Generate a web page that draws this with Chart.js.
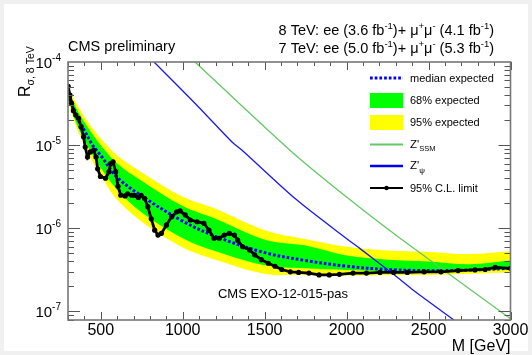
<!DOCTYPE html>
<html>
<head>
    <meta charset="utf-8">
    <title>Z' Limit Plot</title>
    <script src="https://cdn.jsdelivr.net/npm/chart.js"></script>
    <style>
        html, body {
            margin: 0;
            padding: 0;
            background-color: #f0f0f0;
        }
        .paper {
            position: absolute;
            left: 4px;
            top: 4px;
            width: 524px;
            height: 347px;
            background-color: #fff;
        }
        .wrap {
            position: absolute;
            left: 0;
            top: 0;
            width: 532px;
            height: 355px;
        }
    </style>
</head>
<body>
    <div class="paper"></div>
    <div class="wrap">
        <canvas id="limitChart" width="532" height="355"></canvas>
    </div>

    <script>
        // Expected limit bands (mass in GeV)
        const bandMass = [300, 350, 400, 450, 500, 600, 750, 1000, 1200, 1500, 1750, 2000, 2250, 2500, 2750, 3000];
        const medianExpected = [4.1e-5, 2.25e-5, 1.5e-5, 1.0e-5, 7.5e-6, 4.1e-6, 2.45e-6, 1.22e-6, 8.0e-7, 5.1e-7, 4.1e-7, 3.5e-7, 3.2e-7, 3.1e-7, 3.15e-7, 3.3e-7];
        const band68Up = [4.5e-5, 2.8e-5, 1.9e-5, 1.35e-5, 1.0e-5, 6.0e-6, 3.7e-6, 1.85e-6, 1.3e-6, 7.3e-7, 6.2e-7, 4.7e-7, 4.2e-7, 4.0e-7, 3.7e-7, 4.1e-7];
        const band68Down = [3.7e-5, 1.85e-5, 1.15e-5, 7.6e-6, 5.3e-6, 2.9e-6, 1.55e-6, 7.6e-7, 5.3e-7, 3.6e-7, 3.3e-7, 3.15e-7, 3.05e-7, 3.0e-7, 3.1e-7, 3.2e-7];
        const band95Up = [4.8e-5, 3.2e-5, 2.2e-5, 1.6e-5, 1.2e-5, 7.5e-6, 4.7e-6, 2.4e-6, 1.72e-6, 9.5e-7, 7.4e-7, 6.0e-7, 5.4e-7, 5.2e-7, 4.9e-7, 5.3e-7];
        const band95Down = [3.4e-5, 1.65e-5, 1.0e-5, 6.3e-6, 4.3e-6, 2.2e-6, 1.2e-6, 5.9e-7, 4.2e-7, 2.85e-7, 2.75e-7, 2.7e-7, 2.75e-7, 2.75e-7, 2.85e-7, 2.95e-7];

        // Observed 95% C.L. limit
        const obsMass = [301, 312, 322, 333, 347, 364, 380, 395, 405, 419, 436, 457, 471, 481, 498, 529, 550, 560, 575, 591,
            605, 622, 648, 663, 689, 705, 729, 746, 767, 787, 808, 829, 849, 870, 901, 932, 963, 984, 1015, 1046,
            1087, 1129, 1160, 1191, 1222, 1253, 1284, 1315, 1335, 1366, 1408, 1439, 1480, 1522, 1563, 1604, 1656, 1707, 1770, 1832,
            1894, 1956, 2039, 2121, 2204, 2287, 2370, 2473, 2576, 2680, 2783, 2845, 2907, 3000];
        const obsLimit = [5.1e-5, 4.0e-5, 3.2e-5, 2.6e-5, 2.3e-5, 2.1e-5, 1.66e-5, 1.26e-5, 9.5e-6, 7.2e-6, 8.3e-6, 8.7e-6, 7.2e-6, 5.2e-6, 4.2e-6, 4.0e-6, 4.8e-6, 6.0e-6, 6.3e-6, 4.8e-6,
            3.2e-6, 2.5e-6, 2.45e-6, 2.6e-6, 2.5e-6, 2.5e-6, 2.35e-6, 2.5e-6, 2.3e-6, 1.82e-6, 1.3e-6, 9.5e-7, 8.3e-7, 8.7e-7, 1.1e-6, 1.38e-6, 1.58e-6, 1.62e-6, 1.45e-6, 1.26e-6,
            1.2e-6, 1.15e-6, 9.5e-7, 7.6e-7, 7.6e-7, 8.3e-7, 8.7e-7, 8.3e-7, 7.2e-7, 6.0e-7, 5.5e-7, 4.8e-7, 4.2e-7, 3.8e-7, 3.5e-7, 3.2e-7, 3.0e-7, 2.95e-7, 2.9e-7, 2.75e-7,
            2.75e-7, 2.8e-7, 2.9e-7, 2.9e-7, 2.95e-7, 2.95e-7, 2.95e-7, 3.0e-7, 3.0e-7, 3.1e-7, 3.16e-7, 3.2e-7, 3.4e-7, 3.3e-7];

        // Theory curves
        const ssmMass = [1075, 1654, 2021, 2326, 3000];
        const ssmRatio = [1.0e-4, 8.7e-6, 2.2e-6, 7.6e-7, 8.2e-8];
        const psiMass = [825, 1095, 1301, 1362, 1695, 2021, 2082, 2307, 2407, 2655];
        const psiRatio = [1.0e-4, 2.9e-5, 1.09e-5, 8.7e-6, 2.2e-6, 7.0e-7, 5.7e-7, 2.6e-7, 1.8e-7, 7.9e-8];

        // Axis ticks
        const xMajorTicks = [500, 1000, 1500, 2000, 2500, 3000];
        const yDecades = [1e-7, 1e-6, 1e-5, 1e-4];
        const yDecadeLabels = ['-7', '-6', '-5', '-4'];

        const FONT = '"Liberation Sans", Arial, sans-serif';

        function toPoints(xs, ys) {
            return xs.map((x, i) => ({ x: x, y: ys[i] }));
        }

        // Draw a run of text pieces, some raised or lowered (super/subscripts)
        function drawRich(ctx, parts, x, y, align) {
            let total = 0;
            parts.forEach(function(p) {
                ctx.font = p[1] + 'px ' + FONT;
                total += ctx.measureText(p[0]).width;
            });
            let cx = align === 'right' ? x - total : (align === 'center' ? x - total / 2 : x);
            ctx.textAlign = 'left';
            parts.forEach(function(p) {
                ctx.font = p[1] + 'px ' + FONT;
                ctx.fillText(p[0], cx, y + p[2]);
                cx += ctx.measureText(p[0]).width;
            });
        }

        // Frame, ROOT style inner ticks, labels, legend and captions
        const decorations = {
            id: 'decorations',
            afterDatasetsDraw(chart) {
                const ctx = chart.ctx;
                const area = chart.chartArea;
                const xs = chart.scales.x;
                const ys = chart.scales.y;
                ctx.save();
                ctx.fillStyle = '#000';
                ctx.textBaseline = 'alphabetic';

                // ticks
                ctx.strokeStyle = '#555';
                ctx.lineWidth = 1;
                ctx.beginPath();
                for (let m = 300; m <= 3000; m += 100) {
                    const px = Math.round(xs.getPixelForValue(m)) + 0.5;
                    const len = (m % 500 === 0) ? 8 : 4;
                    ctx.moveTo(px, area.bottom); ctx.lineTo(px, area.bottom - len);
                    ctx.moveTo(px, area.top); ctx.lineTo(px, area.top + len);
                }
                for (let e = -8; e <= -5; e++) {
                    for (let k = 1; k <= 9; k++) {
                        const v = k * Math.pow(10, e);
                        if (v < ys.min * 0.999 || v > ys.max * 1.001) continue;
                        const py = Math.round(ys.getPixelForValue(v)) + 0.5;
                        const len = k === 1 ? 12 : 6;
                        ctx.moveTo(area.left, py); ctx.lineTo(area.left + len, py);
                        ctx.moveTo(area.right, py); ctx.lineTo(area.right - len, py);
                    }
                }
                ctx.stroke();

                // frame
                ctx.strokeStyle = '#777';
                ctx.lineWidth = 1.6;
                ctx.strokeRect(area.left, area.top, area.right - area.left, area.bottom - area.top);

                // x tick labels
                ctx.fillStyle = '#000';
                ctx.font = '16px ' + FONT;
                ctx.textAlign = 'center';
                xMajorTicks.forEach(function(m) {
                    ctx.fillText(String(m), xs.getPixelForValue(m), 335);
                });
                ctx.textAlign = 'right';
                ctx.fillText('M [GeV]', area.right, 351);

                // y tick labels 10^n
                yDecades.forEach(function(v, i) {
                    const py = ys.getPixelForValue(v);
                    drawRich(ctx, [['10', 15, 0], [yDecadeLabels[i], 10, -7]], 61, py + 6, 'right');
                });

                // y axis title
                ctx.save();
                ctx.translate(30, 97);
                ctx.rotate(-Math.PI / 2);
                drawRich(ctx, [['R', 16, 0], ['\u03c3, 8 TeV', 10.5, 4]], 0, 0, 'left');
                ctx.restore();

                // captions
                drawRich(ctx, [['CMS preliminary', 14.5, 0]], 68, 51, 'left');
                drawRich(ctx, [['8 TeV: ee (3.6 fb', 14.5, 0], ['-1', 9.5, -6], [')+ \u03bc', 14.5, 0], ['+', 9.5, -6],
                    ['\u03bc', 14.5, 0], ['-', 9.5, -6], [' (4.1 fb', 14.5, 0], ['-1', 9.5, -6], [')', 14.5, 0]], 494, 35, 'right');
                drawRich(ctx, [['7 TeV: ee (5.0 fb', 14.5, 0], ['-1', 9.5, -6], [')+ \u03bc', 14.5, 0], ['+', 9.5, -6],
                    ['\u03bc', 14.5, 0], ['-', 9.5, -6], [' (5.3 fb', 14.5, 0], ['-1', 9.5, -6], [')', 14.5, 0]], 494, 53, 'right');
                drawRich(ctx, [['CMS EXO-12-015-pas', 13, 0]], 283, 298, 'center');

                // legend
                const lx0 = 370, lx1 = 403, tx = 410;
                ctx.lineCap = 'butt';
                ctx.strokeStyle = '#0000ff';
                ctx.lineWidth = 3;
                ctx.setLineDash([2.7, 2.0]);
                ctx.beginPath(); ctx.moveTo(lx0, 78); ctx.lineTo(lx1, 78); ctx.stroke();
                ctx.setLineDash([]);
                drawRich(ctx, [['median expected', 11, 0]], tx, 81.5, 'left');

                ctx.fillStyle = '#00ff00';
                ctx.fillRect(lx0, 93, lx1 - lx0, 15);
                ctx.fillStyle = '#000';
                drawRich(ctx, [['68% expected', 11, 0]], tx, 104, 'left');

                ctx.fillStyle = '#ffff00';
                ctx.fillRect(lx0, 115, lx1 - lx0, 15);
                ctx.fillStyle = '#000';
                drawRich(ctx, [['95% expected', 11, 0]], tx, 126, 'left');

                ctx.strokeStyle = '#66c866';
                ctx.lineWidth = 2;
                ctx.beginPath(); ctx.moveTo(lx0, 144.5); ctx.lineTo(lx1, 144.5); ctx.stroke();
                drawRich(ctx, [["Z'", 11.5, 0], ['SSM', 7.5, 3]], tx, 147.5, 'left');

                ctx.strokeStyle = '#0000f0';
                ctx.lineWidth = 2.6;
                ctx.beginPath(); ctx.moveTo(lx0, 166); ctx.lineTo(lx1, 166); ctx.stroke();
                drawRich(ctx, [["Z'", 11.5, 0], ['\u03c8', 8, 3.5]], tx, 169, 'left');

                ctx.strokeStyle = '#000';
                ctx.lineWidth = 2;
                ctx.beginPath(); ctx.moveTo(lx0, 188); ctx.lineTo(lx1, 188); ctx.stroke();
                ctx.beginPath(); ctx.arc((lx0 + lx1) / 2, 188, 2.2, 0, Math.PI * 2); ctx.fill();
                drawRich(ctx, [['95% C.L. limit', 11, 0]], tx, 191.5, 'left');

                ctx.restore();
            }
        };

        var ctxLimit = document.getElementById('limitChart').getContext('2d');
        var limitChart = new Chart(ctxLimit, {
            type: 'line',
            data: {
                datasets: [
                    {
                        label: '95% expected',
                        data: toPoints(bandMass, band95Up),
                        borderWidth: 0,
                        backgroundColor: '#ffff00',
                        fill: '+1',
                        tension: 0.35,
                        order: 10
                    },
                    {
                        label: '95% expected low',
                        data: toPoints(bandMass, band95Down),
                        borderWidth: 0,
                        fill: false,
                        tension: 0.35,
                        order: 10
                    },
                    {
                        label: '68% expected',
                        data: toPoints(bandMass, band68Up),
                        borderWidth: 0,
                        backgroundColor: '#00ff00',
                        fill: '+1',
                        tension: 0.35,
                        order: 9
                    },
                    {
                        label: '68% expected low',
                        data: toPoints(bandMass, band68Down),
                        borderWidth: 0,
                        fill: false,
                        tension: 0.35,
                        order: 9
                    },
                    {
                        label: 'median expected',
                        data: toPoints(bandMass, medianExpected),
                        borderColor: '#0000ff',
                        borderWidth: 3,
                        borderDash: [2.7, 2.0],
                        borderCapStyle: 'butt',
                        fill: false,
                        tension: 0.35,
                        order: 5
                    },
                    {
                        label: "Z'SSM",
                        data: toPoints(ssmMass, ssmRatio),
                        borderColor: '#66c866',
                        borderWidth: 1.3,
                        fill: false,
                        tension: 0.3,
                        order: 4
                    },
                    {
                        label: "Z'psi",
                        data: toPoints(psiMass, psiRatio),
                        borderColor: '#1a1af0',
                        borderWidth: 1.3,
                        fill: false,
                        tension: 0.3,
                        order: 4
                    },
                    {
                        label: '95% C.L. limit',
                        data: toPoints(obsMass, obsLimit),
                        borderColor: '#000',
                        borderWidth: 2.8,
                        pointRadius: 2.6,
                        pointBackgroundColor: '#000',
                        pointBorderWidth: 0,
                        fill: false,
                        tension: 0,
                        order: 1
                    }
                ]
            },
            options: {
                responsive: false,
                animation: false,
                layout: {
                    padding: { left: 68, right: 21.5, top: 62, bottom: 35 }
                },
                elements: {
                    point: { radius: 0 }
                },
                scales: {
                    x: { type: 'linear', min: 300, max: 3000, display: false },
                    y: { type: 'logarithmic', min: 7.9e-8, max: 1e-4, display: false }
                },
                plugins: {
                    legend: { display: false },
                    tooltip: { enabled: false }
                }
            },
            plugins: [decorations]
        });
    </script>
</body>
</html>
